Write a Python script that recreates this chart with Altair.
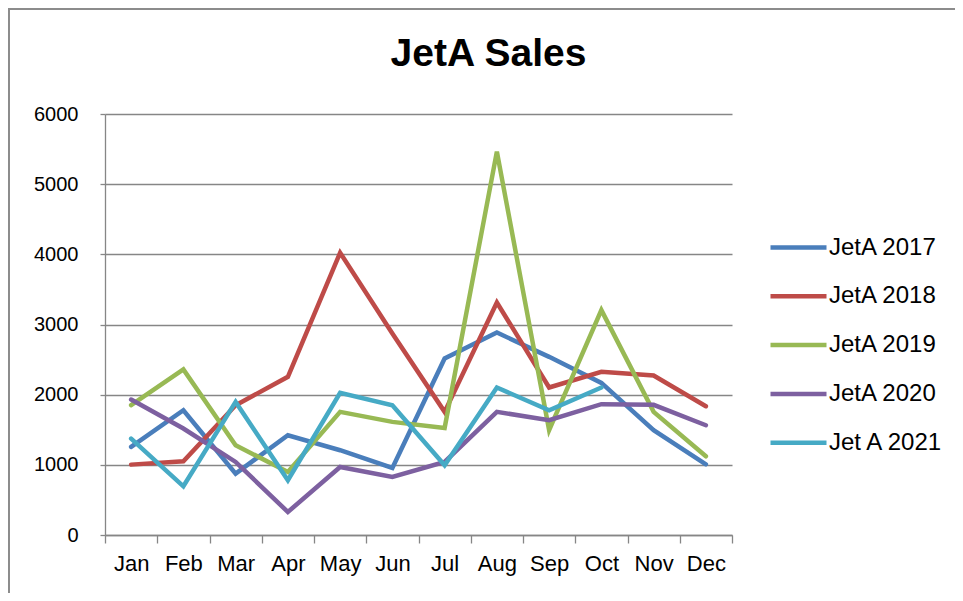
import altair as alt
import pandas as pd

months = ["Jan", "Feb", "Mar", "Apr", "May", "Jun", "Jul", "Aug", "Sep", "Oct", "Nov", "Dec"]
series_names = ["JetA 2017", "JetA 2018", "JetA 2019", "JetA 2020", "Jet A 2021"]
jeta_2017 = [1255, 1778, 875, 1422, 1208, 956, 2515, 2886, 2539, 2168, 1493, 1008]
jeta_2018 = [1003, 1051, 1850, 2254, 4023, 2872, 1755, 3314, 2102, 2325, 2273, 1835]
jeta_2019 = [1850, 2359, 1279, 899, 1755, 1612, 1526, 5464, 1493, 3205, 1755, 1122]
jeta_2020 = [1930, 1517, 1041, 328, 970, 827, 1041, 1755, 1636, 1864, 1855, 1564]
jeta_2021 = [1374, 694, 1897, 780, 2026, 1850, 994, 2102, 1778, 2102, None, None]
colors = ["#4A7EBB", "#BE4B48", "#98B954", "#7D60A0", "#46AAC5"]
y_ticks = [0, 1000, 2000, 3000, 4000, 5000, 6000]

all_values = [jeta_2017, jeta_2018, jeta_2019, jeta_2020, jeta_2021]
rows = []
for name, vals in zip(series_names, all_values):
    for m, v in zip(months, vals):
        rows.append({"month": m, "series": name, "sales": v})
df = pd.DataFrame(rows)

FONT = "Liberation Sans, sans-serif"
TITLE_FONT = "Liberation Sans, sans-serif"

lines = alt.Chart(df).mark_line(strokeWidth=4.5, strokeCap="round", strokeJoin="miter").encode(
    x=alt.X("month:N", sort=months, bandPosition=0.5,
            scale=alt.Scale(type="band", paddingInner=0, paddingOuter=0),
            axis=alt.Axis(title=None, labelAngle=0, tickBand="extent", tickSize=8,
                          labelPadding=10, labelFontSize=22, labelFont=FONT,
                          labelColor="#000000", domainColor="#868686", tickColor="#868686",
                          domainWidth=1.3, tickWidth=1.3, grid=False)),
    y=alt.Y("sales:Q", scale=alt.Scale(domain=[0, 6000], nice=False),
            axis=alt.Axis(title=None, values=y_ticks, format="d", tickSize=5, labelPadding=22,
                          labelFontSize=20, labelFont=FONT, labelColor="#000000",
                          domainColor="#868686", tickColor="#868686", gridColor="#868686",
                          domainWidth=1.3, tickWidth=1.3, gridWidth=1.3)),
    color=alt.Color("series:N", sort=series_names,
                    scale=alt.Scale(domain=series_names, range=colors),
                    legend=alt.Legend(title=None, orient="none", legendX=663, legendY=103,
                                      symbolType="stroke", symbolSize=3136, symbolStrokeWidth=4.5,
                                      labelFontSize=24, labelFont=FONT, labelColor="#000000",
                                      labelOffset=0, rowPadding=5.8)),
)

frame = alt.Chart(df).mark_rect(fill=None, stroke="#8C8C8C", strokeWidth=1.3).encode(
    x=alt.value(-96.5), x2=alt.value(900), y=alt.value(-105.5), y2=alt.value(600)
)

chart = alt.layer(frame, lines).properties(
    width=627, height=421,
    title=alt.TitleParams("JetA Sales", fontSize=39, fontWeight="bold", font=TITLE_FONT,
                          anchor="middle", frame="group", dx=70, offset=-66,
                          color="#000000"),
    autosize=alt.AutoSizeParams(type="none"),
    padding={"left": 97, "top": 106, "right": 223, "bottom": 58},
).configure_view(stroke=None)

chart.save("out.html", embed_options={"renderer": "svg", "actions": False})
